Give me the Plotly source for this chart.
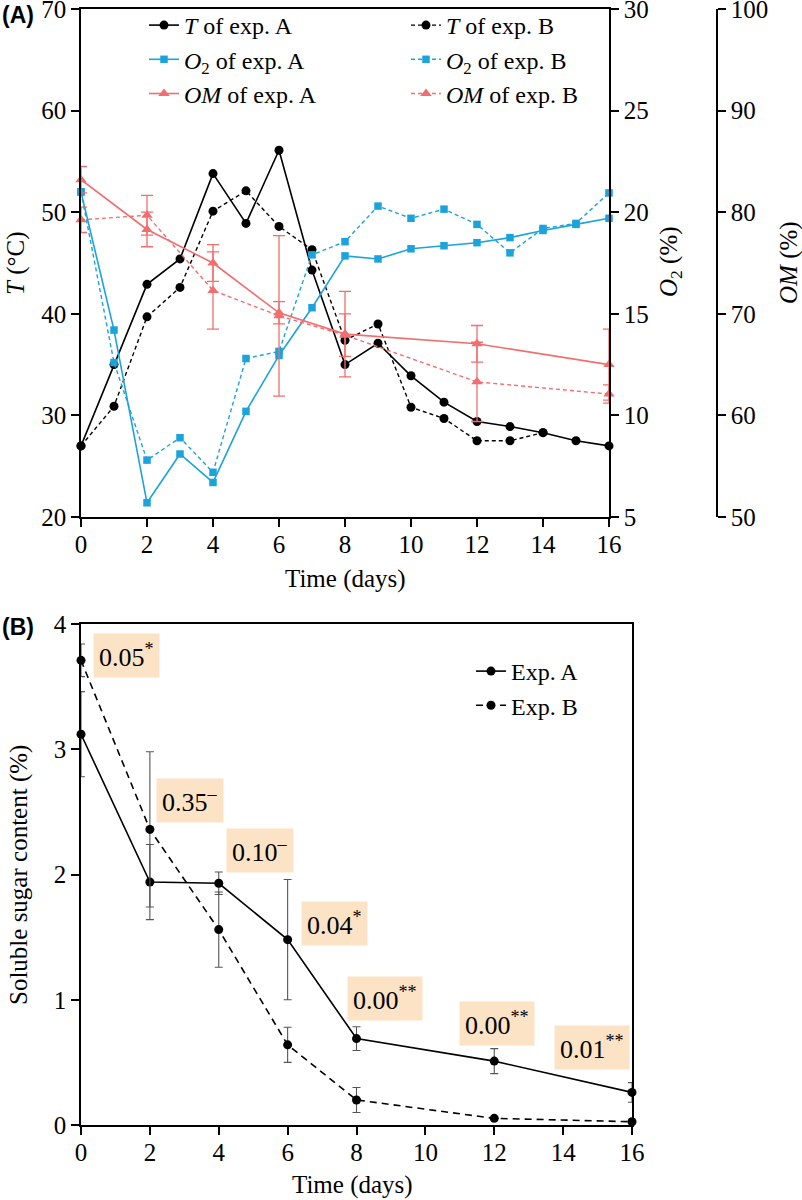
import plotly.graph_objects as go

# ---------------- Panel A data ----------------
days_T_A = list(range(0, 17))
T_A = [27.0, 35.0, 42.9, 45.4, 53.8, 48.9, 56.1, 44.3, 35.0, 37.1, 33.9, 31.3, 29.4, 28.9, 28.3, 27.5, 27.0]
days_T_B = list(range(0, 15))
T_B = [27.0, 30.9, 39.7, 42.6, 50.1, 52.1, 48.6, 46.3, 37.4, 39.0, 30.8, 29.7, 27.5, 27.5, 28.3]

days_O2 = list(range(0, 17))
O2_A = [21.0, 14.2, 5.7, 8.1, 6.7, 10.2, 12.95, 15.3, 17.85, 17.7, 18.2, 18.35, 18.5, 18.75, 19.1, 19.4, 19.7]
O2_B = [21.0, 12.6, 7.8, 8.9, 7.2, 12.8, 13.15, 17.9, 18.55, 20.3, 19.7, 20.15, 19.4, 18.0, 19.2, 19.45, 20.95]

days_OM = [0, 2, 4, 6, 8, 12, 16]
OM_A = [83.2, 78.3, 75.0, 70.1, 68.0, 67.05, 65.0]
OM_A_err = [1.3, 1.7, 1.8, 1.1, 4.2, 1.8, 3.5]
OM_B = [79.25, 79.7, 72.3, 69.8, 67.9, 63.3, 62.1]
OM_B_err = [1.25, 1.95, 3.8, 7.9, 2.1, 3.9, 0.9]

# ---------------- Panel B data ----------------
days_S = [0, 2, 4, 6, 8, 12, 16]
sugar_A = [3.12, 1.94, 1.93, 1.48, 0.69, 0.51, 0.26]
sugar_A_err = [0.34, 0.30, 0.09, 0.48, 0.095, 0.10, 0.078]
sugar_B = [3.71, 2.36, 1.56, 0.64, 0.20, 0.053, 0.026]
sugar_B_err = [0.13, 0.62, 0.30, 0.14, 0.10, 0.0, 0.0]

p_labels = ["0.05<sup>*</sup>", "0.35<sup>–</sup>", "0.10<sup>–</sup>", "0.04<sup>*</sup>",
            "0.00<sup>**</sup>", "0.00<sup>**</sup>", "0.01<sup>**</sup>"]
p_x = [1.31, 3.165, 5.21, 7.36, 8.84, 12.08, 14.84]
p_y = [3.75, 2.59, 2.19, 1.61, 1.01, 0.81, 0.62]

BLACK = "#000000"
BLUE = "#1BA3DC"
RED = "#F26E6E"
PEACH = "#FDE3C5"
SERIF = "Liberation Serif, Times New Roman, serif"
SANS = "Liberation Sans, Arial, sans-serif"
W, H = 802, 1200

def px_x(p):
    return p / W

def px_y(p):
    return 1 - p / H

fig = go.Figure()

# Panel A traces
fig.add_trace(go.Scatter(x=days_T_A, y=T_A, mode="lines+markers", name="<i>T</i> of exp. A",
                         line=dict(color=BLACK, width=1.6), marker=dict(symbol="circle", size=9, color=BLACK),
                         xaxis="x", yaxis="y", legend="legend", cliponaxis=False))
fig.add_trace(go.Scatter(x=days_O2, y=O2_A, mode="lines+markers", name="<i>O</i><sub>2</sub> of exp. A",
                         line=dict(color=BLUE, width=1.6), marker=dict(symbol="square", size=7.5, color=BLUE),
                         xaxis="x", yaxis="y2", legend="legend", cliponaxis=False))
fig.add_trace(go.Scatter(x=days_OM, y=OM_A, mode="lines+markers", name="<i>OM</i> of exp. A",
                         line=dict(color=RED, width=1.6), marker=dict(symbol="triangle-up", size=10, color=RED),
                         error_y=dict(type="data", array=OM_A_err, color=RED, thickness=1.3, width=6),
                         xaxis="x", yaxis="y3", legend="legend", cliponaxis=False))
fig.add_trace(go.Scatter(x=days_T_B, y=T_B, mode="lines+markers", name="<i>T</i> of exp. B",
                         line=dict(color=BLACK, width=1.4, dash="4px,3px"), marker=dict(symbol="circle", size=9, color=BLACK),
                         xaxis="x", yaxis="y", legend="legend2", cliponaxis=False))
fig.add_trace(go.Scatter(x=days_O2, y=O2_B, mode="lines+markers", name="<i>O</i><sub>2</sub> of exp. B",
                         line=dict(color=BLUE, width=1.4, dash="4px,3px"), marker=dict(symbol="square", size=7.5, color=BLUE),
                         xaxis="x", yaxis="y2", legend="legend2", cliponaxis=False))
fig.add_trace(go.Scatter(x=days_OM, y=OM_B, mode="lines+markers", name="<i>OM</i> of exp. B",
                         line=dict(color=RED, width=1.4, dash="4px,3px"), marker=dict(symbol="triangle-up", size=10, color=RED),
                         error_y=dict(type="data", array=OM_B_err, color=RED, thickness=1.3, width=6),
                         xaxis="x", yaxis="y3", legend="legend2", cliponaxis=False))

# Panel B traces
fig.add_trace(go.Scatter(x=days_S, y=sugar_A, mode="lines+markers", name="Exp. A",
                         line=dict(color=BLACK, width=1.6), marker=dict(symbol="circle", size=9, color=BLACK),
                         error_y=dict(type="data", array=sugar_A_err, color="#555555", thickness=1.1, width=4),
                         xaxis="x2", yaxis="y4", legend="legend3", cliponaxis=False))
fig.add_trace(go.Scatter(x=days_S, y=sugar_B, mode="lines+markers", name="Exp. B",
                         line=dict(color=BLACK, width=1.6, dash="7px,5px"), marker=dict(symbol="circle", size=9, color=BLACK),
                         error_y=dict(type="data", array=sugar_B_err, color="#555555", thickness=1.1, width=4),
                         xaxis="x2", yaxis="y4", legend="legend3", cliponaxis=False))

axis_common = dict(showgrid=False, zeroline=False, showline=True, linecolor=BLACK, linewidth=1.5,
                   ticks="outside", ticklen=8, tickwidth=1.5, tickcolor=BLACK, automargin=False,
                   ticklabeloverflow="allow",
                   tickfont=dict(family=SERIF, size=25, color=BLACK))

fig.update_layout(
    template="none",
    width=W, height=H, margin=dict(l=0, r=0, t=0, b=0, autoexpand=False),
    paper_bgcolor="white", plot_bgcolor="white",
    font=dict(family=SERIF, size=25, color=BLACK),
    xaxis=dict(domain=[px_x(81), px_x(609)], range=[0, 16], dtick=2, tick0=0, anchor="y", mirror=True,
               ticklabelstandoff=-4, **axis_common),
    yaxis=dict(domain=[px_y(517), px_y(9)], range=[20, 70], dtick=10, anchor="x", **axis_common),
    yaxis2=dict(range=[5, 30], dtick=5, overlaying="y", side="right", anchor="x", **axis_common),
    yaxis3=dict(range=[50, 100], dtick=10, overlaying="y", side="right", anchor="free",
                position=px_x(717), **axis_common),
    xaxis2=dict(domain=[px_x(81), px_x(632)], range=[0, 16], dtick=2, tick0=0, anchor="y4", mirror=True,
                ticklabelstandoff=-4, **axis_common),
    yaxis4=dict(domain=[px_y(1125), px_y(624)], range=[0, 4], dtick=1, anchor="x2", mirror=True, **axis_common),
    legend=dict(x=px_x(144), y=px_y(3), xanchor="left", yanchor="top", bgcolor="rgba(0,0,0,0)",
                font=dict(family=SERIF, size=24), tracegroupgap=0),
    legend2=dict(x=px_x(406), y=px_y(3), xanchor="left", yanchor="top", bgcolor="rgba(0,0,0,0)",
                 font=dict(family=SERIF, size=24), tracegroupgap=0),
    legend3=dict(x=px_x(471), y=px_y(649), xanchor="left", yanchor="top", bgcolor="rgba(0,0,0,0)",
                 font=dict(family=SERIF, size=24), tracegroupgap=0),
    showlegend=True,
)

annotations = []
# Panel labels
annotations.append(dict(text="<b>(A)</b>", x=px_x(0), y=px_y(0), xref="paper", yref="paper",
                        xanchor="left", yanchor="top", showarrow=False,
                        font=dict(family=SANS, size=23, color=BLACK)))
annotations.append(dict(text="<b>(B)</b>", x=px_x(0), y=px_y(612), xref="paper", yref="paper",
                        xanchor="left", yanchor="top", showarrow=False,
                        font=dict(family=SANS, size=23, color=BLACK)))
# Axis titles
def title(text, x, y, angle=0):
    return dict(text=text, x=px_x(x), y=px_y(y), xref="paper", yref="paper",
                xanchor="center", yanchor="middle", textangle=angle, showarrow=False,
                font=dict(family=SERIF, size=25, color=BLACK))

annotations.append(title("<i>T</i> (°C)", 16, 264, -90))
annotations.append(title("<i>O</i><sub>2</sub> (%)", 671, 262, -90))
annotations.append(title("<i>OM</i> (%)", 789, 263, -90))
annotations.append(title("Time (days)", 345, 579))
annotations.append(title("Soluble sugar content (%)", 19, 875, -90))
annotations.append(title("Time (days)", 352, 1185))
# p-value boxes
for t, xx, yy in zip(p_labels, p_x, p_y):
    annotations.append(dict(text=t, x=xx, y=yy, xref="x2", yref="y4", showarrow=False,
                            xanchor="center", yanchor="middle",
                            bgcolor=PEACH, borderpad=5, font=dict(family=SERIF, size=26, color=BLACK)))

fig.update_layout(annotations=annotations)

fig.write_html("out.html", config={"displayModeBar": False},
               post_script="document.body.style.margin='0';document.body.style.padding='0';")
